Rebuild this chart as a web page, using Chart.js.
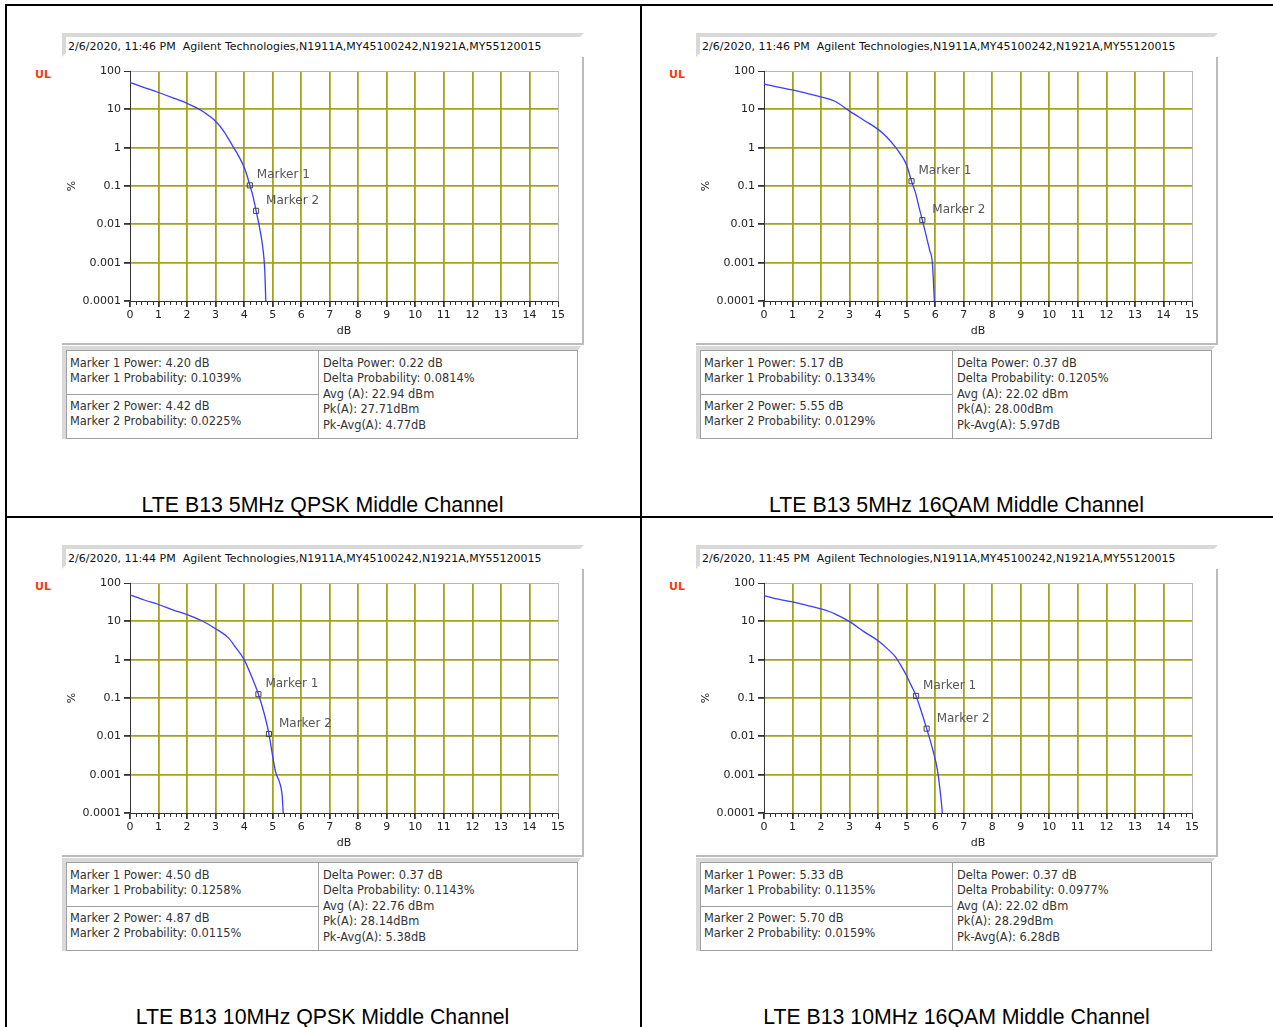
<!DOCTYPE html>
<html>
<head>
<meta charset="utf-8">
<script src="https://cdn.jsdelivr.net/npm/chart.js"></script>
<style>
  * { box-sizing: border-box; }
  body { margin: 0; background: #fff; width: 1273px; height: 1027px; overflow: hidden; position: relative; font-family: 'DejaVu Sans', sans-serif; }
  .rule { position: absolute; background: #000; }
  .hdr { position: absolute; width: 522px; height: 24px; border-top: 4px solid #d9d9d9; border-left: 4px solid #d9d9d9; border-right: 4px solid transparent; border-bottom: 4px solid transparent; font-size: 11px; line-height: 16px; padding: 2px 0 0 2px; color: #111; white-space: nowrap; }
  .ul { position: absolute; font: bold 11px 'DejaVu Sans', sans-serif; color: #f03c14; line-height: 13px; }
  .frame { position: absolute; width: 522px; height: 288px; border-right: 2px solid #bcbcbc; border-bottom: 2px solid #bcbcbc; }
  canvas { position: absolute; }
  .bevel { position: absolute; width: 519px; height: 93px; border-top: 4px solid #d9d9d9; border-left: 4px solid #d9d9d9; border-right: 3px solid transparent; }
  .tbl { position: absolute; width: 512px; height: 89px; border: 1px solid #a0a0a0; font-size: 11.4px; line-height: 15.5px; color: #333; white-space: nowrap; }
  .cell { position: absolute; }
  .cap { position: absolute; width: 635px; text-align: center; font: 21.3px 'Liberation Sans', Arial, sans-serif; line-height: 24px; color: #000; }
</style>
</head>
<body>
<script>
// ---- data ----
const qpsk5Db  = [0, 0.5, 1, 1.5, 2, 2.5, 2.8, 3, 3.3, 3.6, 3.8, 4.0, 4.1, 4.2, 4.3, 4.42, 4.55, 4.65, 4.72, 4.76];
const qpsk5Pct = [50, 37, 27.5, 20, 14.3, 9.3, 6.5, 4.9, 2.6, 1.1, 0.62, 0.31, 0.19, 0.104, 0.058, 0.0225, 0.0075, 0.0026, 0.0007, 0.0001];

const qam5Db  = [0, 0.5, 1, 1.5, 2, 2.5, 3, 3.5, 4, 4.3, 4.6, 4.8, 5.0, 5.17, 5.3, 5.45, 5.55, 5.7, 5.8, 5.9, 5.94, 5.97];
const qam5Pct = [45.7, 38, 32, 26, 21, 16, 9, 5.2, 3.0, 1.9, 1.05, 0.65, 0.35, 0.1334, 0.07, 0.025, 0.0129, 0.0045, 0.0022, 0.001, 0.0003, 0.0001];

const qpsk10Db  = [0, 0.5, 1, 1.5, 2, 2.5, 3, 3.45, 3.7, 4.0, 4.25, 4.5, 4.7, 4.87, 5.0, 5.1, 5.25, 5.33, 5.37];
const qpsk10Pct = [49, 36, 27.5, 20, 15, 10.5, 6.4, 3.7, 2.1, 1.0, 0.38, 0.1258, 0.04, 0.0115, 0.003, 0.0012, 0.0006, 0.0003, 0.0001];

const qam10Db  = [0, 0.5, 1, 1.5, 2, 2.5, 3, 3.5, 4, 4.3, 4.6, 4.8, 5.0, 5.15, 5.33, 5.5, 5.7, 5.9, 6.08, 6.2, 6.25];
const qam10Pct = [47, 38, 32, 26, 21, 15.5, 9.8, 5.4, 3.1, 2.0, 1.2, 0.7, 0.38, 0.22, 0.1135, 0.048, 0.0159, 0.0049, 0.0013, 0.00025, 0.0001];

const markerNames = ['Marker 1', 'Marker 2'];
const markerDb  = [[4.20, 4.42], [5.17, 5.55], [4.50, 4.87], [5.33, 5.70]];
const markerPct = [[0.1039, 0.0225], [0.1334, 0.0129], [0.1258, 0.0115], [0.1135, 0.0159]];

const deltaPower = ['0.22', '0.37', '0.37', '0.37'];
const deltaProb  = ['0.0814', '0.1205', '0.1143', '0.0977'];
const avgPower   = ['22.94', '22.02', '22.76', '22.02'];
const peakPower  = ['27.71', '28.00', '28.14', '28.29'];
const peakToAvg  = ['4.77', '5.97', '5.38', '6.28'];

const timestamps = ['2/6/2020, 11:46 PM', '2/6/2020, 11:46 PM', '2/6/2020, 11:44 PM', '2/6/2020, 11:45 PM'];
const instrument = 'Agilent Technologies,N1911A,MY45100242,N1921A,MY55120015';
const captions = ['LTE B13 5MHz QPSK Middle Channel', 'LTE B13 5MHz 16QAM Middle Channel',
                  'LTE B13 10MHz QPSK Middle Channel', 'LTE B13 10MHz 16QAM Middle Channel'];

const xTicks = [0, 1, 2, 3, 4, 5, 6, 7, 8, 9, 10, 11, 12, 13, 14, 15];
const yTickValues = [0.0001, 0.001, 0.01, 0.1, 1, 10, 100];
const yTickLabels = ['0.0001', '0.001', '0.01', '0.1', '1', '10', '100'];

const curvesDb  = [qpsk5Db, qam5Db, qpsk10Db, qam10Db];
const curvesPct = [qpsk5Pct, qam5Pct, qpsk10Pct, qam10Pct];

// ---- page layout ----
const olive = 'rgb(163,163,30)';
const origins = [[0, 0], [634, 0], [0, 512], [634, 512]];

function el(cls, left, top, html) {
  const d = document.createElement('div');
  d.className = cls;
  d.style.left = left + 'px';
  d.style.top = top + 'px';
  if (html !== undefined) d.innerHTML = html;
  document.body.appendChild(d);
  return d;
}

// black separators
[[5, 4, 1268, 2], [5, 4, 2, 1023], [640, 4, 2, 1023], [5, 516, 1268, 2]].forEach(r => {
  const d = el('rule', r[0], r[1]);
  d.style.width = r[2] + 'px';
  d.style.height = r[3] + 'px';
});

Chart.defaults.font.family = "'DejaVu Sans', sans-serif";
Chart.defaults.font.size = 11;
Chart.defaults.color = '#222';

const minorTicks = {
  id: 'minorTicks',
  afterDraw(chart) {
    const { ctx, scales: { x } } = chart;
    const y0 = chart.chartArea.bottom;
    ctx.save();
    ctx.strokeStyle = '#333';
    ctx.lineWidth = 1;
    ctx.beginPath();
    for (let i = 1; i < 75; i++) {
      if (i % 5 === 0) continue;
      const px = Math.round(x.getPixelForValue(i / 5)) + 0.5;
      ctx.moveTo(px, y0);
      ctx.lineTo(px, y0 + 4);
    }
    ctx.stroke();
    ctx.restore();
  }
};

const markerLabels = {
  id: 'markerLabels',
  afterDatasetsDraw(chart) {
    const { ctx } = chart;
    const pts = chart.getDatasetMeta(0).data;
    const offs = [[7, -10], [10, -10]];
    ctx.save();
    ctx.font = "12px 'DejaVu Sans', sans-serif";
    ctx.fillStyle = '#555';
    ctx.textBaseline = 'middle';
    pts.forEach((p, i) => ctx.fillText(markerNames[i], p.x + offs[i][0], p.y + offs[i][1]));
    ctx.restore();
  }
};

origins.forEach(([ox, oy], k) => {
  el('hdr', ox + 62, oy + 33, timestamps[k] + '&nbsp;&nbsp;' + instrument);
  el('ul', ox + 35, oy + 68, 'UL');
  el('frame', ox + 62, oy + 57);

  const cv = document.createElement('canvas');
  cv.width = 521; cv.height = 286;
  cv.style.left = (ox + 62) + 'px';
  cv.style.top = (oy + 57) + 'px';
  document.body.appendChild(cv);

  // marker table
  el('bevel', ox + 62, oy + 346);
  const t = el('tbl', ox + 66, oy + 350);
  const m = (j) => 'Marker ' + (j + 1) + ' Power: ' + markerDb[k][j].toFixed(2) + ' dB<br>Marker ' + (j + 1) +
                   ' Probability: ' + markerPct[k][j].toFixed(4) + '%';
  t.innerHTML =
    '<div class="cell" style="left:0;top:0;width:252px;height:44px;border-right:1px solid #a0a0a0;border-bottom:1px solid #a0a0a0;padding:4.5px 0 0 3px">' + m(0) + '</div>' +
    '<div class="cell" style="left:0;top:44px;width:252px;height:43px;border-right:1px solid #a0a0a0;padding:3.5px 0 0 3px">' + m(1) + '</div>' +
    '<div class="cell" style="left:252px;top:0;width:258px;padding:4.5px 0 0 4px">' +
      'Delta Power: ' + deltaPower[k] + ' dB<br>Delta Probability: ' + deltaProb[k] + '%<br>Avg (A): ' + avgPower[k] +
      ' dBm<br>Pk(A): ' + peakPower[k] + 'dBm<br>Pk-Avg(A): ' + peakToAvg[k] + 'dB</div>';

  el('cap', ox + 5, oy + 493, captions[k]);

  new Chart(cv, {
    type: 'line',
    data: {
      datasets: [
        {
          data: markerDb[k].map((x, i) => ({ x, y: markerPct[k][i] })),
          showLine: false, pointStyle: 'rect', pointRadius: 3.6, pointBorderWidth: 1,
          pointBorderColor: '#444', pointBackgroundColor: 'rgba(0,0,0,0)', order: 0
        },
        {
          data: curvesDb[k].map((x, i) => ({ x, y: curvesPct[k][i] })),
          borderColor: '#3c3cff', borderWidth: 1.3, pointRadius: 0,
          cubicInterpolationMode: 'monotone', fill: false, order: 1
        }
      ]
    },
    options: {
      responsive: false,
      animation: false,
      layout: { padding: { left: 0, top: 14, right: 25, bottom: 0 } },
      plugins: { legend: { display: false }, tooltip: { enabled: false } },
      scales: {
        x: {
          type: 'linear', min: 0, max: 15,
          afterBuildTicks: s => { s.ticks = xTicks.map(v => ({ value: v })); },
          afterFit: s => { s.height = 42; },
          ticks: { padding: 2, maxRotation: 0, autoSkip: false },
          grid: {
            color: c => c.tick.value === 0 ? 'rgba(0,0,0,0)' : (c.tick.value === 15 ? '#b8b8b8' : olive),
            lineWidth: c => c.tick.value === 15 ? 1 : 1.8,
            tickColor: '#333', tickLength: 6
          },
          border: { color: '#333', width: 1 },
          title: { display: true, text: 'dB', padding: { top: 0, bottom: 5 } }
        },
        y: {
          type: 'logarithmic', min: 0.0001, max: 100,
          afterBuildTicks: s => { s.ticks = yTickValues.map(v => ({ value: v })); },
          afterFit: s => { s.width = 68; },
          ticks: { padding: 3, callback: (v, i) => yTickLabels[i] },
          grid: {
            color: c => c.tick.value === 0.0001 ? 'rgba(0,0,0,0)' : (c.tick.value === 100 ? '#b8b8b8' : olive),
            lineWidth: c => c.tick.value === 100 ? 1 : 1.8,
            tickColor: '#333', tickLength: 6
          },
          border: { color: '#333', width: 1 },
          title: { display: true, text: '%', padding: { top: 4, bottom: 0 } }
        }
      }
    },
    plugins: [minorTicks, markerLabels]
  });
});
</script>
</body>
</html>
